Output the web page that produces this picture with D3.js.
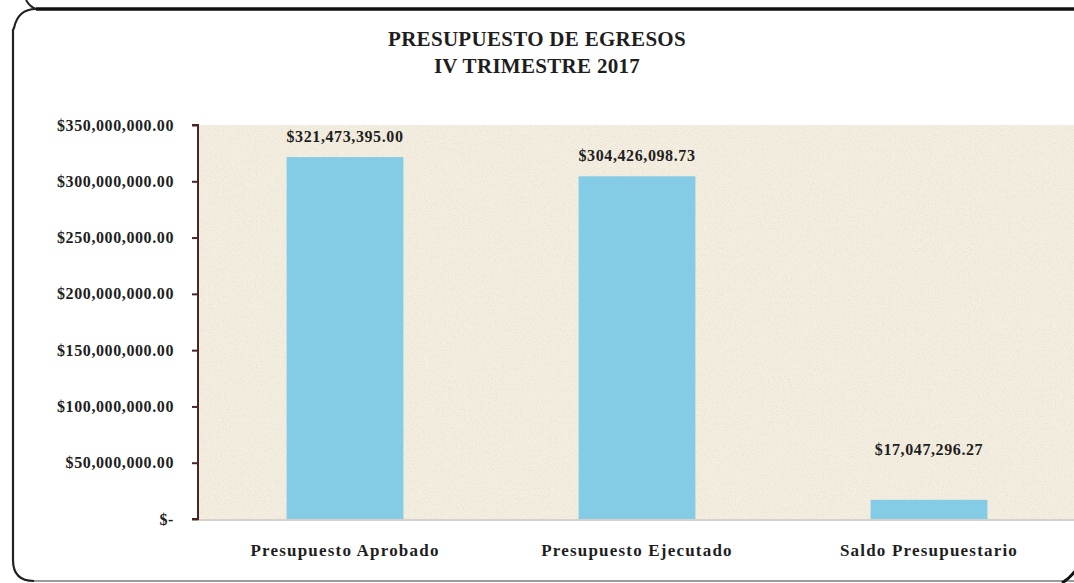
<!DOCTYPE html>
<html lang="es">
<head>
<meta charset="utf-8">
<title>Presupuesto de Egresos IV Trimestre 2017</title>
<style>
  body { margin: 0; background: #fff; }
  text { font-family: "Liberation Serif", "DejaVu Serif", serif; font-weight: bold; fill: #1e1e1e; }
</style>
</head>
<body>
<script src="https://d3js.org/d3.v7.min.js"></script>
<script>
// data
var categories = ["Presupuesto Aprobado", "Presupuesto Ejecutado", "Saldo Presupuestario"];
var values = [321473395.00, 304426098.73, 17047296.27];
var valueLabels = ["$321,473,395.00", "$304,426,098.73", "$17,047,296.27"];
var yTicks = [0, 50e6, 100e6, 150e6, 200e6, 250e6, 300e6, 350e6];
var yTickLabels = ["$-", "$50,000,000.00", "$100,000,000.00", "$150,000,000.00",
                   "$200,000,000.00", "$250,000,000.00", "$300,000,000.00", "$350,000,000.00"];
var titleLines = ["PRESUPUESTO DE EGRESOS", "IV TRIMESTRE 2017"];

var W = 1074, H = 583;
var plot = {left: 198, right: 1075, top: 125, bottom: 519};

var svg = d3.select("body").append("svg")
    .attr("width", W)
    .attr("height", H);

// paper texture for plot area
var defs = svg.append("defs");
var f = defs.append("filter").attr("id", "grain")
    .attr("x", 0).attr("y", 0).attr("width", 1).attr("height", 1);
f.append("feTurbulence").attr("type", "fractalNoise")
    .attr("baseFrequency", 0.85).attr("numOctaves", 2).attr("seed", 7).attr("result", "n");
f.append("feColorMatrix").attr("in", "n").attr("type", "matrix")
    .attr("values", "0 0 0 0 0.6  0 0 0 0 0.55  0 0 0 0 0.45  0 0 0 -2.4 1.3");

// frame
svg.append("path")
    .attr("d", "M1080,9 L36,9 Q18,9 14,28 L13,30 L13,560 Q13,581 34,581")
    .attr("fill", "none").attr("stroke", "#222").attr("stroke-width", 2.2);
svg.append("path")
    .attr("d", "M34,581 L1080,581")
    .attr("stroke", "#9a9a9a").attr("stroke-width", 2);
svg.append("path")
    .attr("d", "M36,9 L1080,9")
    .attr("stroke", "#111").attr("stroke-width", 3.5);
svg.append("path")
    .attr("d", "M36,9 Q30,7 26,0")
    .attr("fill", "none").attr("stroke", "#222").attr("stroke-width", 2);
svg.append("path")
    .attr("d", "M1062,583 Q1070,578 1076,570")
    .attr("fill", "none").attr("stroke", "#111").attr("stroke-width", 3);

// plot background
svg.append("rect")
    .attr("x", plot.left).attr("y", plot.top)
    .attr("width", plot.right - plot.left).attr("height", plot.bottom - plot.top)
    .attr("fill", "#f4eee0");
svg.append("rect")
    .attr("x", plot.left).attr("y", plot.top)
    .attr("width", plot.right - plot.left).attr("height", plot.bottom - plot.top)
    .attr("filter", "url(#grain)")
    .attr("opacity", 0.3);

var x = d3.scaleBand()
    .domain(categories)
    .range([plot.left + 1, plot.right])
    .paddingInner(0.6)
    .paddingOuter(0.3);

var y = d3.scaleLinear()
    .domain([0, 350e6])
    .range([plot.bottom, plot.top]);

// bars
svg.selectAll(".bar")
    .data(values)
    .enter().append("rect")
    .attr("class", "bar")
    .attr("x", (d, i) => x(categories[i]))
    .attr("y", d => y(d))
    .attr("width", x.bandwidth())
    .attr("height", d => y(0) - y(d))
    .attr("fill", "#84cbe5");

// value labels
svg.selectAll(".vlabel")
    .data(values)
    .enter().append("text")
    .attr("class", "vlabel")
    .attr("x", (d, i) => x(categories[i]) + x.bandwidth() / 2)
    .attr("y", d => Math.min(y(d) - 15, y(0) - 64))
    .attr("text-anchor", "middle")
    .style("font-size", "16px")
    .style("letter-spacing", "0.6px")
    .text((d, i) => valueLabels[i]);

// bottom axis line
svg.append("line")
    .attr("x1", plot.left).attr("x2", plot.right)
    .attr("y1", y(0) + 1).attr("y2", y(0) + 1)
    .attr("stroke", "#c9c3ba").attr("stroke-width", 1.5);

// y axis
var yAxis = d3.axisLeft(y)
    .tickValues(yTicks)
    .tickSize(6)
    .tickPadding(18)
    .tickFormat((d, i) => yTickLabels[i]);

var gy = svg.append("g")
    .attr("transform", "translate(" + plot.left + ",0)")
    .call(yAxis);
gy.select(".domain").attr("stroke", "#4a2525").attr("stroke-width", 2)
    .attr("d", "M-6," + plot.top + "H0V" + plot.bottom + "H-6");
gy.selectAll(".tick line").attr("stroke", "#4a2525").attr("stroke-width", 2);
gy.selectAll(".tick text")
    .style("font-family", "'Liberation Serif', serif")
    .style("font-weight", "bold")
    .style("font-size", "16px")
    .style("letter-spacing", "0.6px")
    .attr("fill", "#222");

// x axis labels
var xAxis = d3.axisBottom(x).tickSize(0).tickPadding(25);
var gx = svg.append("g")
    .attr("transform", "translate(0," + plot.bottom + ")")
    .call(xAxis);
gx.select(".domain").remove();
gx.selectAll(".tick text")
    .style("font-family", "'Liberation Serif', serif")
    .style("font-weight", "bold")
    .style("font-size", "17px")
    .style("letter-spacing", "1.2px")
    .attr("fill", "#222");

// title
svg.selectAll(".title")
    .data(titleLines)
    .enter().append("text")
    .attr("class", "title")
    .attr("x", 537)
    .attr("y", (d, i) => 46 + i * 27)
    .attr("text-anchor", "middle")
    .style("font-size", "21px")
    .style("letter-spacing", "0.3px")
    .text(d => d);
</script>
</body>
</html>
